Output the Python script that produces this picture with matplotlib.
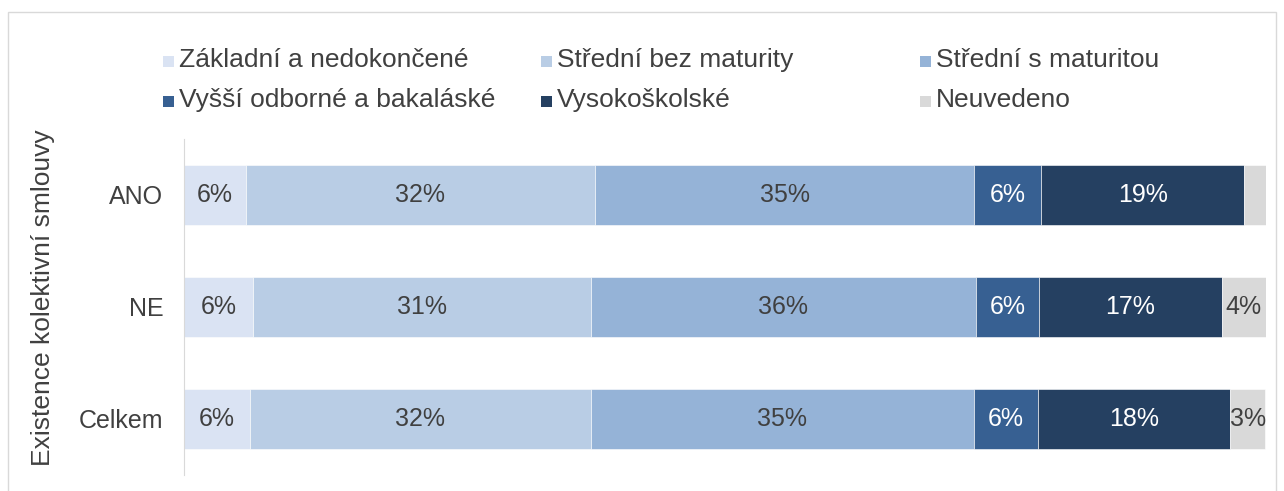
import numpy as np
import matplotlib.pyplot as plt
from matplotlib.patches import Rectangle

plt.rcParams['font.family'] = ['Liberation Sans', 'DejaVu Sans']

categories = ['ANO', 'NE', 'Celkem']
series = ['Základní a nedokončené', 'Střední bez maturity', 'Střední s maturitou',
          'Vyšší odborné a bakaláské', 'Vysokoškolské', 'Neuvedeno']
values = np.array([
    [5.7, 32.3, 35.0, 6.2, 18.8, 2.0],   # ANO
    [6.4, 31.2, 35.6, 5.8, 16.9, 4.1],   # NE
    [6.1, 31.5, 35.4, 5.9, 17.8, 3.2],   # Celkem
])
colors = ['#dae3f3', '#b9cde5', '#95b3d7', '#376092', '#254061', '#d9d9d9']
text_colors = ['#404040', '#404040', '#404040', 'white', 'white', '#404040']

W, H = 1284, 491
fig = plt.figure(figsize=(W / 100, H / 100), dpi=100)
ax = fig.add_axes([184 / W, 1 - 475 / H, (1266 - 184) / W, (475 - 139) / H])

y = np.arange(len(categories))
left = np.zeros(len(categories))
for j, name in enumerate(series):
    bars = ax.barh(y, values[:, j], left=left, height=0.535, color=colors[j],
                   edgecolor='white', linewidth=0.4)
    for i, b in enumerate(bars):
        v = values[i, j]
        if v >= 2.5:
            ax.text(left[i] + v / 2, y[i], f'{v:.0f}%', ha='center', va='center',
                    fontsize=18, color=text_colors[j])
    left += values[:, j]

ax.set_xlim(0, 100)
ax.set_ylim(2.5, -0.5)
ax.set_yticks(y)
ax.set_yticklabels(categories, fontsize=18, color='#404040')
ax.tick_params(axis='y', length=0, pad=15)
ax.set_xticks([])
for s in ['top', 'right', 'bottom']:
    ax.spines[s].set_visible(False)
ax.spines['left'].set_color('#d9d9d9')
ax.set_ylabel('Existence kolektivní smlouvy', fontsize=19, color='#404040')
ax.yaxis.set_label_coords(-0.119, 0.527)

# legend: 3 columns x 2 rows, row-wise order
col_x = [163, 541, 920]
row_y = [60, 100]
for k, name in enumerate(series):
    cx = col_x[k % 3]
    cy = row_y[k // 3]
    fig.patches.append(Rectangle((cx / W, 1 - (cy + 7) / H), 11 / W, 11 / H,
                                 transform=fig.transFigure, facecolor=colors[k],
                                 edgecolor='none'))
    fig.text((cx + 16) / W, 1 - cy / H, name, fontsize=19, color='#404040',
             va='center', ha='left')

fig.patches.append(Rectangle((8 / W, -0.1), (1276 - 8) / W, 1.1 - 12 / H,
                             transform=fig.transFigure, fill=False,
                             edgecolor='#d9d9d9', linewidth=1))

fig.savefig('out.png', dpi=100)
